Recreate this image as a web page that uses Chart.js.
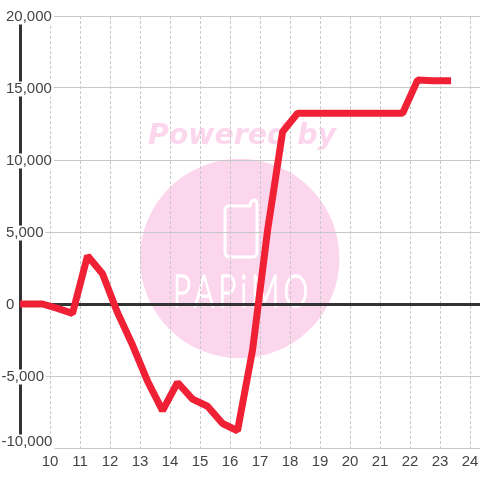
<!DOCTYPE html>
<html>
<head>
<meta charset="utf-8">
<style>
  html, body { margin: 0; padding: 0; background: #fff; }
  canvas { display: block; }
</style>
<script src="https://cdn.jsdelivr.net/npm/chart.js@4/dist/chart.umd.js"></script>
</head>
<body>
<canvas id="profitChart" width="480" height="480"></canvas>
<script>
  const hours = [8.75, 9.25, 9.75, 10.25, 10.75, 11.25, 11.75, 12.25, 12.75, 13.25,
    13.75, 14.25, 14.75, 15.25, 15.75, 16.25, 16.75, 17.25, 17.75, 18.25,
    18.75, 19.25, 19.75, 20.25, 20.75, 21.25, 21.75, 22.25, 22.75, 23.25];
  const balance = [0, 0, 0, -300, -650, 3350, 2100, -600, -2850, -5350,
    -7400, -5450, -6600, -7100, -8300, -8800, -3200, 5100, 11950, 13250,
    13250, 13250, 13250, 13250, 13250, 13250, 13250, 15550, 15500, 15500];
  const xTicks = [10, 11, 12, 13, 14, 15, 16, 17, 18, 19, 20, 21, 22, 23, 24];
  const yTicks = [-10000, -7500, -5000, -2500, 0, 2500, 5000, 7500, 10000, 12500, 15000, 17500, 20000];
  const yLabels = ['-10,000', null, '-5,000', null, '0', null, '5,000', null, '10,000', null, '15,000', null, '20,000'];

  // logo sits behind the grid
  const watermark = {
    id: 'watermark',
    beforeDraw(chart) {
      const c = chart.ctx;
      c.save();
      c.fillStyle = '#fcd6ed';
      c.beginPath();
      c.arc(239.7, 258.5, 99.7, 0, Math.PI * 2);
      c.fill();

      c.font = 'italic bold 28.4px "DejaVu Sans"';
      c.textAlign = 'left';
      c.textBaseline = 'alphabetic';
      c.fillText('Powered by', 148, 144);

      c.strokeStyle = '#fff';
      c.lineWidth = 3;
      c.lineJoin = 'round';
      c.beginPath();
      c.moveTo(229, 206);
      c.lineTo(250, 206);
      c.quadraticCurveTo(251, 200, 254, 200);
      c.quadraticCurveTo(257, 200, 257, 204);
      c.lineTo(257, 252);
      c.quadraticCurveTo(257, 257, 252, 257);
      c.lineTo(230, 257);
      c.quadraticCurveTo(225, 257, 225, 252);
      c.lineTo(225, 211);
      c.quadraticCurveTo(225, 206, 229, 206);
      c.stroke();

      c.save();
      c.translate(173, 307);
      c.scale(0.68, 1);
      c.font = '300 46px Lato';
      c.letterSpacing = '6px';
      c.fillStyle = '#fff';
      c.lineWidth = 1.4;
      c.fillText('PAPiMO', 0, 0);
      c.strokeText('PAPiMO', 0, 0);
      c.restore();
      c.restore();
    }
  };

  // negatives hang left of the other labels, the bottom one is pushed up off the axis
  const nudgeLabels = {
    id: 'nudgeLabels',
    beforeDraw(chart) {
      const y = chart.scales.y;
      y.getLabelItems(chart.chartArea).forEach(item => {
        const text = String(item.label);
        item.options.translation[1] += 1;
        if (text.startsWith('-')) item.options.translation[0] -= 4.5;
        if (text === '-10,000') item.options.translation[1] -= 7;
      });
    }
  };

  new Chart(document.getElementById('profitChart'), {
    type: 'line',
    data: {
      datasets: [{
        data: hours.map((h, i) => ({ x: h, y: balance[i] })),
        borderColor: '#f02035',
        borderWidth: 7,
        borderJoinStyle: 'bevel',
        borderCapStyle: 'square',
        pointRadius: 0,
        tension: 0
      }]
    },
    options: {
      responsive: false,
      animation: false,
      layout: { autoPadding: false, padding: { top: 16 } },
      plugins: {
        legend: { display: false },
        tooltip: { enabled: false }
      },
      scales: {
        x: {
          type: 'linear',
          min: 9,
          max: 24.33,
          afterBuildTicks: scale => { scale.ticks = xTicks.map(v => ({ value: v })); },
          afterFit: scale => {
            scale.height = 32;
            scale.paddingLeft = 0;
            scale.paddingRight = 0;
          },
          border: { display: false, dash: [3, 2] },
          grid: { color: '#c8c8c8', lineWidth: 1, drawTicks: false },
          ticks: {
            autoSkip: false,
            maxRotation: 0,
            padding: 5,
            color: '#444',
            font: { family: '"Liberation Sans"', size: 15 },
            callback: v => String(v)
          }
        },
        y: {
          min: -10000,
          max: 20000,
          afterBuildTicks: scale => { scale.ticks = yTicks.map(v => ({ value: v })); },
          afterFit: scale => { scale.width = 20; },
          border: { color: '#333', width: 3 },
          grid: {
            color: ctx => (ctx.tick && ctx.tick.value === 0 ? '#333' : '#c8c8c8'),
            lineWidth: ctx => (ctx.tick && ctx.tick.value === 0 ? 3 : 1),
            drawTicks: false
          },
          ticks: {
            mirror: true,
            padding: -14,
            color: '#444',
            font: { family: '"Liberation Sans"', size: 15, lineHeight: 1 },
            showLabelBackdrop: true,
            backdropColor: '#fff',
            backdropPadding: { left: 2, right: 2, top: 0, bottom: 0 },
            callback: (v, i) => yLabels[i]
          }
        }
      }
    },
    plugins: [watermark, nudgeLabels]
  });
</script>
</body>
</html>
